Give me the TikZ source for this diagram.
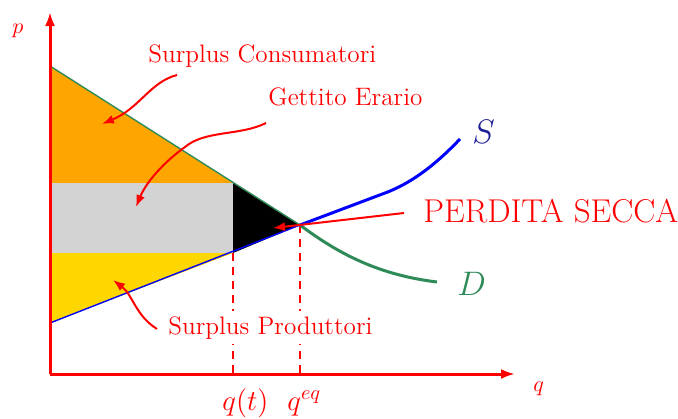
\documentclass[tikz,border=0pt]{standalone}
\usepackage{fix-cm}
\usetikzlibrary{arrows.meta}
\definecolor{surplusorange}{RGB}{255,165,0}
\definecolor{surplusgold}{RGB}{255,215,0}
\definecolor{taxgray}{RGB}{211,211,211}
\definecolor{demandgreen}{RGB}{46,139,87}
\definecolor{supplylabel}{RGB}{30,30,150}
\begin{document}
\begin{tikzpicture}[
  x=0.5pt, y=-0.5pt,
  axis/.style={red, line width=1.5pt, -{Latex[length=7pt,width=5pt]}},
  pointer/.style={red, line width=1pt, -{Latex[length=6pt,width=4.5pt]}},
  guide/.style={red, line width=0.8pt, dash pattern=on 4pt off 3pt},
  lbl/.style={text=red, font=\fontsize{12.6}{15}\selectfont, inner sep=0pt, anchor=base west},
]
\useasboundingbox (0,0) rectangle (678,418);
% key points
\coordinate (O) at (50,374);
\coordinate (ptop) at (50,12);
\coordinate (qend) at (515,374);
\coordinate (pmax) at (50,66);
\coordinate (pmin) at (50,323);
\coordinate (eq) at (300,225);
\coordinate (dt) at (233,183);
\coordinate (st) at (233,253);
\coordinate (qt) at (233,374);
\coordinate (qeq) at (300,374);
% areas
\fill[surplusorange] (pmax) -- (dt) -- (50,183) -- cycle;
\fill[taxgray] (50,183) rectangle (st);
\fill[surplusgold] (50,253) -- (st) -- (pmin) -- cycle;
\fill[black] (dt) -- (eq) -- (st) -- cycle;
\draw[guide] (st) -- (qt);
\draw[guide] (eq) -- (qeq);
% demand and supply
\draw[demandgreen, line width=0.7pt] (pmax) -- (eq);
\draw[demandgreen, line width=1.5pt] (eq) .. controls (340,255) and (380,275) .. (437,282);
\draw[blue, line width=0.7pt] (pmin) -- (eq);
\draw[blue, line width=1.5pt] (eq) -- (385,193) .. controls (415,182) and (440,160) .. (460,139);
\draw[axis] (O) -- (ptop);
\draw[axis] (O) -- (qend);
\node[lbl, font=\fontsize{11}{13}\selectfont] (plbl) at (12,33) {$p$};
\node[lbl, font=\fontsize{11}{13}\selectfont] (qlbl) at (533,391) {$q$};
\node[lbl, text=supplylabel, font=\fontsize{17}{20}\selectfont] (slbl) at (472,143) {$S$};
\node[lbl, text=demandgreen, font=\fontsize{17}{20}\selectfont] (dlbl) at (457,295) {$D$};
\node[lbl, font=\fontsize{14.5}{17}\selectfont] (qtlbl) at (222,410) {$q(t)$};
\node[lbl, font=\fontsize{14.5}{17}\selectfont] (qeqlbl) at (287,410) {$q^{eq}$};
% labels and pointers
\node[lbl] (sc) at (148,62) {Surplus Consumatori};
\node[lbl] (ge) at (268,105) {Gettito Erario};
\node[lbl, font=\fontsize{16.5}{19}\selectfont] (ps) at (423,222) {PERDITA SECCA};
\node[lbl, fill=white, inner sep=2.5pt] (sp) at (163,334) {Surplus Produttori};
\coordinate (scfrom) at (177,75);
\coordinate (scto) at (102,124);
\coordinate (gefrom) at (266,123);
\coordinate (geto) at (136,207);
\coordinate (psfrom) at (404,213);
\coordinate (psto) at (273,228);
\coordinate (spfrom) at (157,329);
\coordinate (spto) at (113,280);
\draw[pointer] (scfrom) .. controls (150,82) and (140,108) .. (scto);
\draw[pointer] (gefrom) .. controls (240,136) and (205,130) .. (185,147) .. controls (160,165) and (145,185) .. (geto);
\draw[pointer] (psfrom) -- (psto);
\draw[pointer] (spfrom) .. controls (135,315) and (133,295) .. (spto);
\end{tikzpicture}
\end{document}
